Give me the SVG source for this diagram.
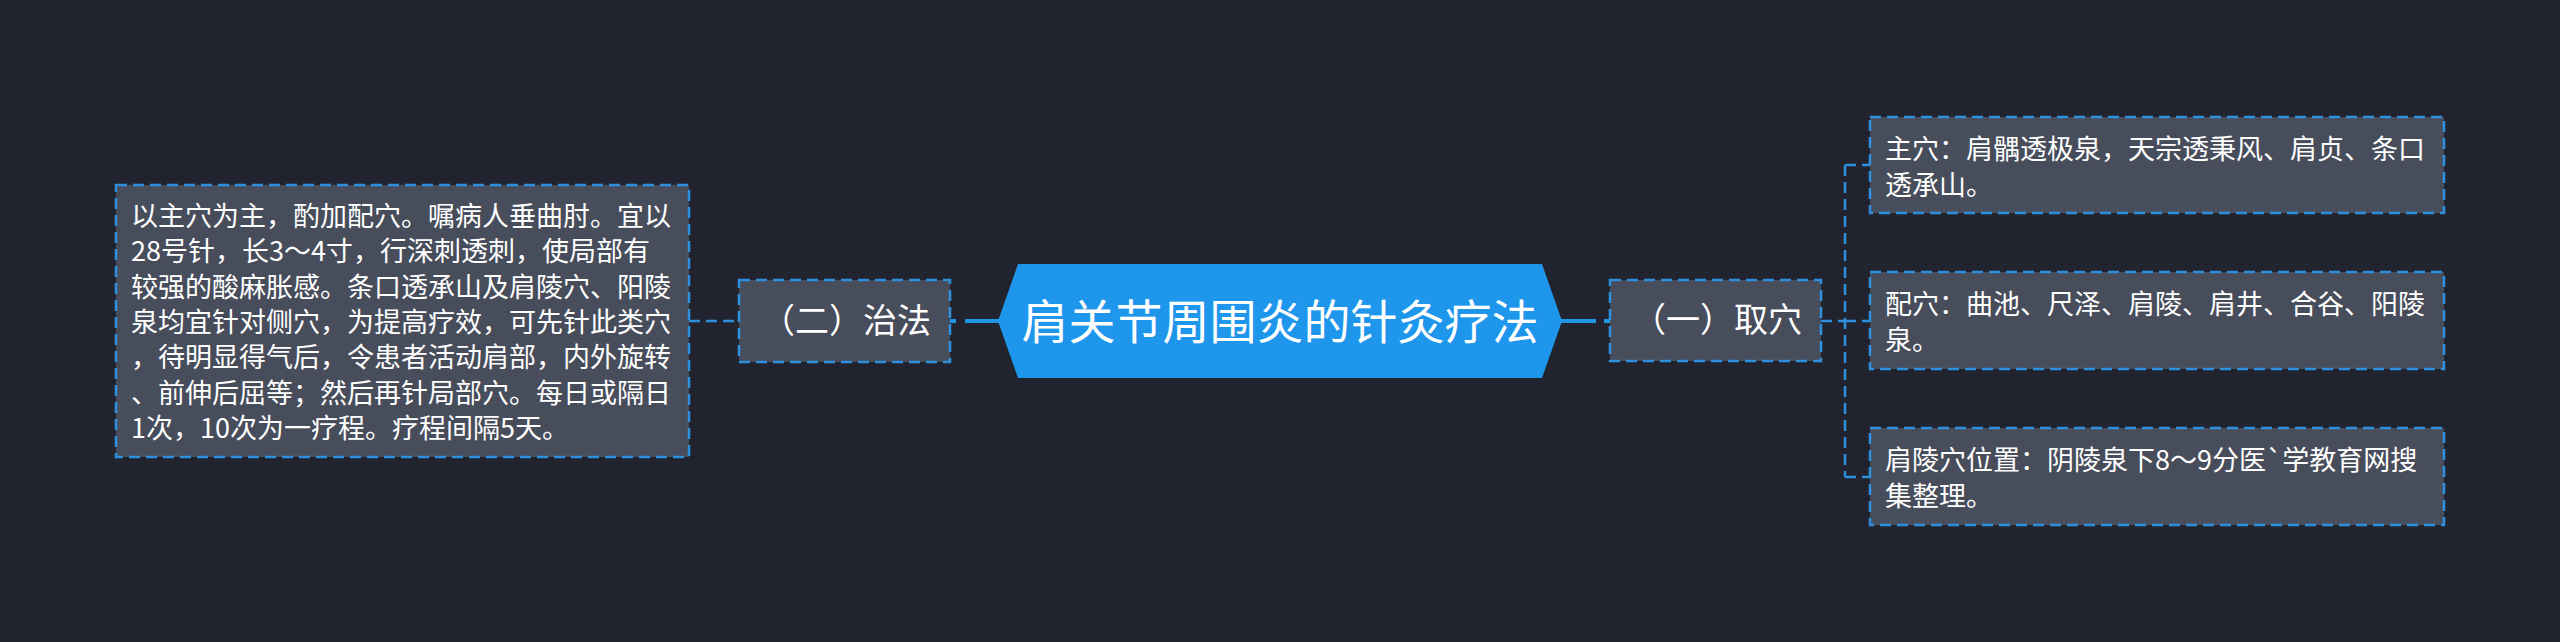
<svg xmlns="http://www.w3.org/2000/svg" width="2560" height="642" viewBox="0 0 2560 642">
<style>
text{font-family:"Noto Sans CJK SC","Noto Sans",sans-serif;fill:#ffffff;}
.box{fill:#474d5b;stroke:#2d90de;stroke-width:2.5;stroke-dasharray:11 6;}
.dash{fill:none;stroke:#2d90de;stroke-width:2.5;stroke-dasharray:11 6;}
.solid{fill:none;stroke:#1e96ec;stroke-width:4;}
.t27{font-size:27px;}
.t34{font-size:34px;}
</style>
<rect x="0" y="0" width="2560" height="642" fill="#21242e"/>
<g id="connectors">
<line class="solid" x1="965" y1="321" x2="1000" y2="321"/>
<line class="solid" x1="949" y1="321" x2="956" y2="321"/>
<line class="solid" x1="1560" y1="321" x2="1596" y2="321"/>
<line class="solid" x1="1604" y1="321" x2="1611" y2="321"/>
<line class="dash" x1="689" y1="321" x2="739" y2="321"/>
<line class="dash" x1="1821" y1="321" x2="1845" y2="321"/>
<line class="dash" x1="1845" y1="165" x2="1845" y2="477"/>
<line class="dash" x1="1845" y1="165" x2="1870" y2="165"/>
<line class="dash" x1="1845" y1="321" x2="1870" y2="321"/>
<line class="dash" x1="1845" y1="477" x2="1870" y2="477"/>
</g>
<g id="center">
<polygon points="998,321 1018,264 1542,264 1562,321 1542,378 1018,378" fill="#1e96ec"/>
<text x="1280" y="339" font-size="47" text-anchor="middle">肩关节周围炎的针灸疗法</text>
</g>
<g id="zhifa">
<rect class="box" x="739" y="280" width="211" height="82"/>
<text class="t34" x="846" y="333" text-anchor="middle">（二）治法</text>
</g>
<g id="zhifa-detail">
<rect class="box" x="116" y="185" width="573" height="272"/>
<text class="t27" x="131" y="226">以主穴为主，酌加配穴。嘱病人垂曲肘。宜以</text>
<text class="t27" x="131" y="261.3">28号针，长3～4寸，行深刺透刺，使局部有</text>
<text class="t27" x="131" y="296.6">较强的酸麻胀感。条口透承山及肩陵穴、阳陵</text>
<text class="t27" x="131" y="331.9">泉均宜针对侧穴，为提高疗效，可先针此类穴</text>
<text class="t27" x="131" y="367.2">，待明显得气后，令患者活动肩部，内外旋转</text>
<text class="t27" x="131" y="402.5">、前伸后屈等；然后再针局部穴。每日或隔日</text>
<text class="t27" x="131" y="437.8">1次，10次为一疗程。疗程间隔5天。</text>
</g>
<g id="quxue">
<rect class="box" x="1610" y="280" width="211" height="81"/>
<text class="t34" x="1717" y="332" text-anchor="middle">（一）取穴</text>
</g>
<g id="zhuxue">
<rect class="box" x="1870" y="117" width="574" height="96"/>
<text class="t27" x="1885" y="159">主穴：肩髃透极泉，天宗透秉风、肩贞、条口</text>
<text class="t27" x="1885" y="195">透承山。</text>
</g>
<g id="peixue">
<rect class="box" x="1870" y="272" width="574" height="97"/>
<text class="t27" x="1885" y="314">配穴：曲池、尺泽、肩陵、肩井、合谷、阳陵</text>
<text class="t27" x="1885" y="350">泉。</text>
</g>
<g id="jianling">
<rect class="box" x="1870" y="428" width="574" height="97"/>
<text class="t27" x="1885" y="470">肩陵穴位置：阴陵泉下8～9分医`学教育网搜</text>
<text class="t27" x="1885" y="506">集整理。</text>
</g>
</svg>
